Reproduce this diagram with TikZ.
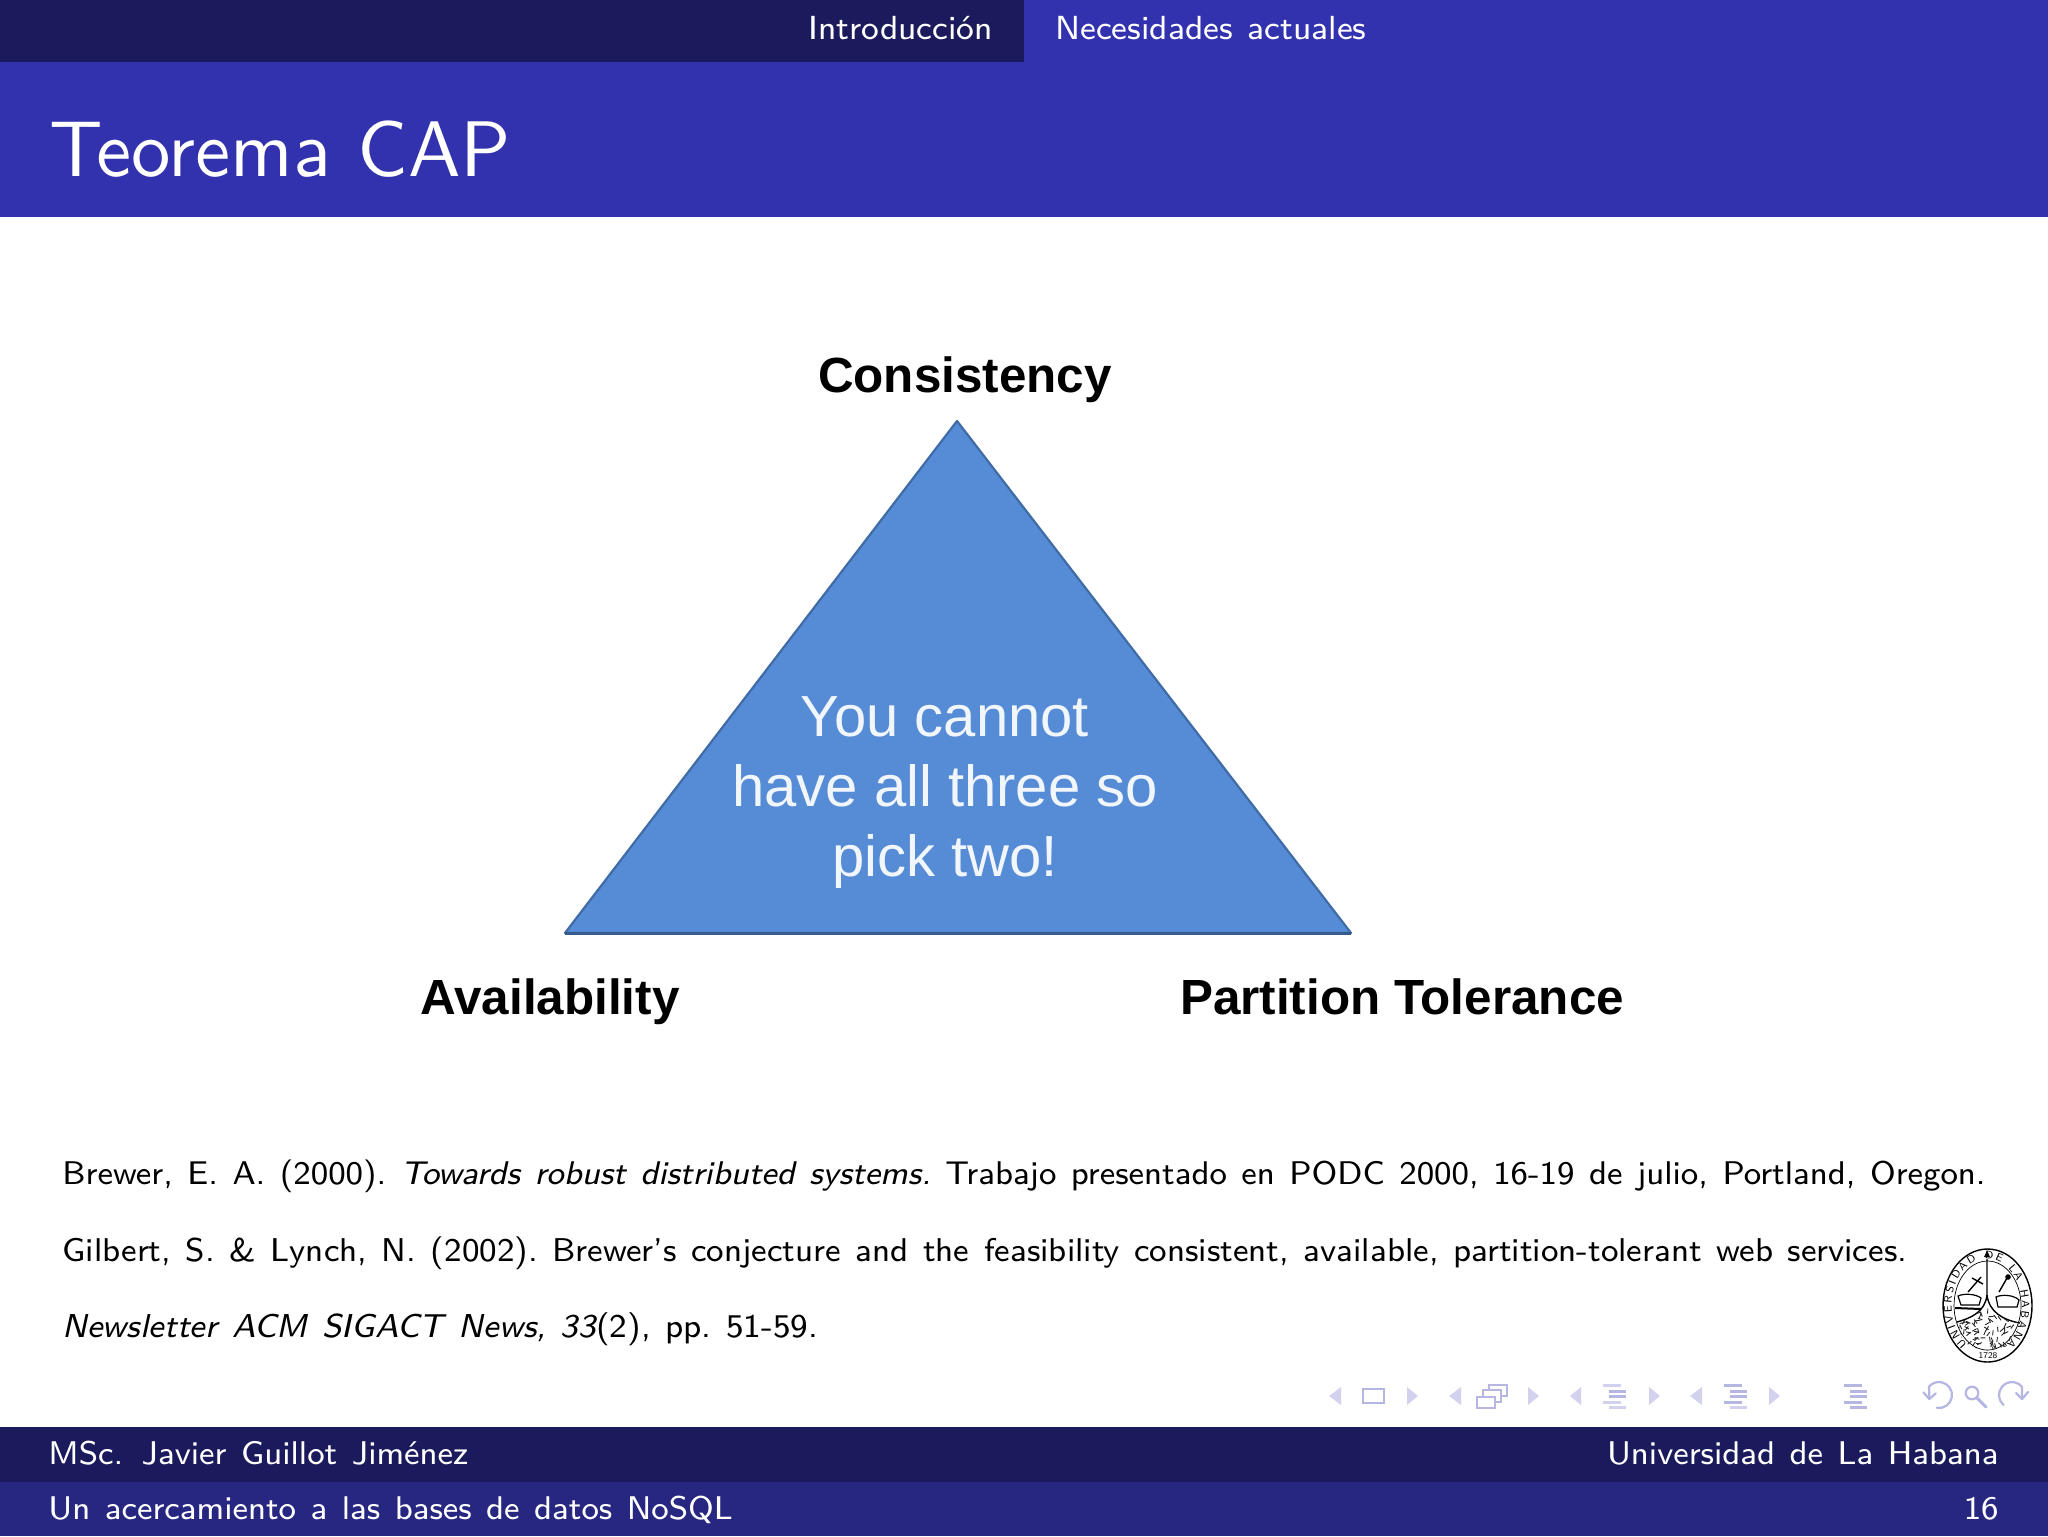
\documentclass[tikz,border=0pt]{standalone}
\usepackage{fontspec}
\newfontfamily\arialf{Liberation Sans}
\setsansfont{lmsans8-regular.otf}[ItalicFont=lmsans8-oblique.otf,WordSpace=1.25]
\newfontfamily\titlef{lmsans10-regular.otf}[WordSpace=1.02]
\usetikzlibrary{decorations.text,shapes.geometric,arrows.meta}
\definecolor{hdr}{HTML}{3232AE}
\definecolor{darkb}{HTML}{1A1A5C}
\definecolor{midb}{HTML}{272782}
\definecolor{tri}{HTML}{568BD6}
\definecolor{triedge}{HTML}{3F6CA6}
\definecolor{navc}{HTML}{D2D2EE}
\definecolor{navd}{HTML}{B6B6E2}
\tikzset{
 x=0.5pt,y=-0.5pt,
 band/.style={fill=#1,draw=none},
 tabtext/.style={anchor=base west,text=white,font=\sffamily\fontsize{16.7}{18}\selectfont,inner sep=0pt},
 foot/.style={anchor=base west,text=white,font=\sffamily\fontsize{16.4}{18}\selectfont,inner sep=0pt},
 footr/.style={foot,anchor=base east},
 bib/.style={anchor=base west,text=black,font=\sffamily\fontsize{#1}{18}\selectfont\frenchspacing,inner sep=0pt},
 lab/.style={anchor=base,text=black,font=\arialf\bfseries\fontsize{24.7}{28}\selectfont,inner sep=0pt},
 inner/.style={anchor=base,text=white!92!tri,font=\arialf\fontsize{29}{32}\selectfont,inner sep=0pt},
 navtri/.style={fill=navc,draw=none},
 navbox/.style={draw=navd,line width=1.1pt,fill=white},
 navline/.style={draw=navd,line width=1.1pt,line cap=round,line join=round},
}
\newcommand{\navL}[2]{\fill[navtri] (#1,1396) -- (#2,1387) -- (#2,1405) -- cycle;}
\newcommand{\navR}[2]{\fill[navtri] (#2,1396) -- (#1,1387) -- (#1,1405) -- cycle;}
% section list icon: #1 left x, #2 colour of rows 1 and 4, #3 colour of rows 2-3, #4 colour of row 5
\newcommand{\navS}[4]{%
 \fill[#2] (#1,1384) rectangle (#1+18,1386.5);
 \fill[#3] (#1+6,1389.5) rectangle (#1+23,1392.5);
 \fill[#3] (#1+6,1395) rectangle (#1+23,1398);
 \fill[#2] (#1,1401) rectangle (#1+18,1403.5);
 \fill[#4] (#1+6,1406) rectangle (#1+23,1408.8);}
\begin{document}
\begin{tikzpicture}
\useasboundingbox (0,0) rectangle (2048,1536);
\fill[white] (0,0) rectangle (2048,1536);
% header
\fill[band=hdr] (0,0) rectangle (2048,217);
\fill[band=darkb] (0,0) rectangle (1024,62);
\node[tabtext] (tab1) at (808,40) {Introducción};
\node[tabtext] (tab2) at (1055,40) {Necesidades actuales};
\node[anchor=base west,text=white,font=\titlef\fontsize{39.4}{44}\selectfont,inner sep=0pt] (title) at (49,176) {Teorema CAP};
% triangle
\coordinate (apex) at (957,421);
\coordinate (bl) at (565,933);
\coordinate (br) at (1351,933);
\draw[fill=tri,draw=triedge,line width=1.1pt,line join=round] (apex) -- (bl) -- (br) -- cycle;
\draw[draw=triedge!85!black,line width=1.5pt] (bl) -- (br);
\node[lab] (c) at (965,392) {Consistency};
\node[lab] (a) at (550,1014) {Availability};
\node[lab] (p) at (1402,1014) {Partition Tolerance};
\node[inner] (t1) at (945,736) {You cannot};
\node[inner] (t2) at (945,806) {have all three so};
\node[inner] (t3) at (945,876) {pick two!};
% bibliography
\node[bib=16.4] (b1) at (62,1184) {Brewer, E. A. (2000). {\itshape Towards robust distributed systems.} Trabajo presentado en PODC 2000, 16-19 de julio, Portland, Oregon.};
\node[bib=16.47] (b2) at (62,1261) {Gilbert, S. \& Lynch, N. (2002). Brewer's conjecture and the feasibility consistent, available, partition-tolerant web services.};
\node[bib=16.55] (b3) at (62,1337) {{\itshape Newsletter ACM SIGACT News, 33}(2), pp. 51-59.};
% seal
\draw[black,line width=0.7pt] (1987.5,1305.5) ellipse [x radius=44.5,y radius=56.5];
\draw[black,line width=0.35pt] (1987.5,1305.5) ellipse [x radius=33.5,y radius=44.5];
\path[postaction={decorate,decoration={text along path,text align={fit to path},raise=-1.9pt,
  text={|\sffamily\fontsize{5.4}{6}\selectfont|UNIVERSIDAD DE LA HABANA}}}]
  (1964.3,1346.9) arc[start angle=125,end angle=415,x radius=39,y radius=50.5];
\node[font=\sffamily\fontsize{4.4}{5}\selectfont,inner sep=0pt] (yr) at (1988,1356) {1728};
\fill[black] (1987,1250.5) -- (1990,1257) -- (1984,1257) -- cycle;
\draw[black,line width=0.7pt] (1987,1259) -- (1987,1295) .. controls (1989,1312) and (2003,1320) .. (2020,1323);
\draw[black,line width=0.7pt] (1987,1295) .. controls (1985,1312) and (1971,1318) .. (1957,1322);
% seal figures
\draw[black,line width=0.6pt,fill=white] (1958,1296) .. controls (1964,1293) and (1976,1294) .. (1981,1298) -- (1979,1305) -- (1961,1305) -- cycle;
\draw[black,line width=1pt] (1955,1308) -- (1981,1309);
\draw[black,line width=0.7pt] (1968,1292) -- (1981,1277) (1972,1278) -- (1983,1284);
\draw[black,line width=0.6pt,fill=white] (1996,1297) .. controls (2002,1294) and (2014,1295) .. (2019,1300) -- (2017,1307) -- (1998,1307) -- cycle;
\draw[black,line width=0.7pt] (1999,1292) -- (2007,1278);
\fill[black] (2008,1277) circle [radius=2.8];
\begin{scope}
 \clip (1987,1296) .. controls (1989,1312) and (2003,1320) .. (2020,1323) -- (2012,1345) -- (1987,1351) -- (1964,1345) -- (1957,1322) .. controls (1971,1318) and (1985,1312) .. (1987,1296) -- cycle;
 \pgfmathsetseed{1728}
 \foreach \k in {1,...,110}{
  \pgfmathsetmacro{\px}{1955+66*rnd}
  \pgfmathsetmacro{\py}{1310+42*rnd}
  \pgfmathsetmacro{\ang}{360*rnd}
  \draw[black!85,line width=0.45pt] (\px,\py) -- ++(\ang:5);
 }
\end{scope}
% navigation symbols
\navL{1329}{1341}
\draw[navbox] (1363,1389) rectangle (1384,1403);
\navR{1407}{1418}
\navL{1449}{1461}
\draw[navbox] (1489,1385) rectangle (1507,1396);
\draw[navbox] (1483,1390) rectangle (1501,1402);
\draw[navbox] (1477,1397) rectangle (1495,1408);
\navR{1528}{1539}
\navL{1570}{1581}
\navS{1603}{navc}{navd}{navc}
\navR{1649}{1660}
\navL{1690}{1702}
\navS{1724}{navd}{navd}{navc}
\navR{1769}{1780}
\navS{1844}{navd}{navd}{navd}
% back / search / forward
\draw[navline] (1936.7,1407.8) arc[start angle=100,end angle=-140,radius=13] -- (1929.3,1399);
\draw[navline] (1923.3,1392.3) -- (1929.3,1399) -- (1935.7,1393.3);
\draw[navline] (1972,1393) circle [radius=6.3];
\draw[navline,line width=1.5pt] (1977,1398) -- (1986,1407);
\draw[navline] (2003.6,1405) arc[start angle=130,end angle=320,radius=13] -- (2022,1399);
\draw[navline] (2016,1393) -- (2022,1399) -- (2028,1392);
% footer
\fill[band=darkb] (0,1427) rectangle (2048,1482);
\fill[band=midb] (0,1482) rectangle (2048,1536);
\node[foot] (f1) at (48,1464) {MSc. Javier Guillot Jiménez};
\node[footr] (f2) at (1999,1464) {Universidad de La Habana};
\node[foot] (f3) at (48,1519) {Un acercamiento a las bases de datos NoSQL};
\node[footr] (f4) at (1999,1519) {16};
\end{tikzpicture}
\end{document}
